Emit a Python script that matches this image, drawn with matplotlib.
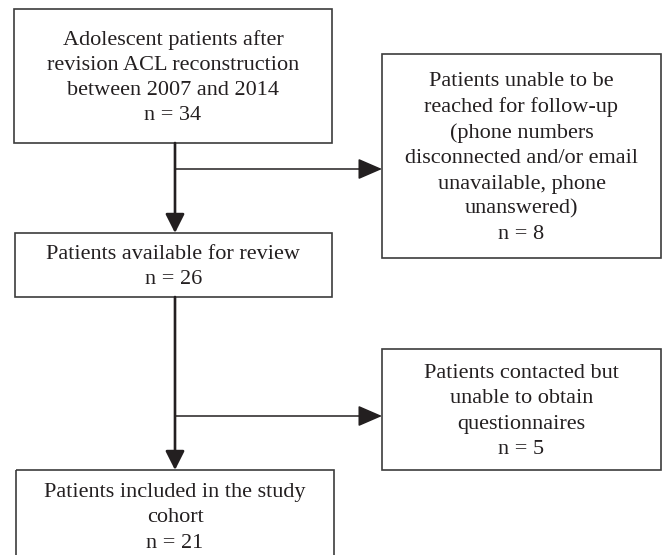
import matplotlib.pyplot as plt
from matplotlib.patches import Rectangle

# flow chart of the cohort
labels = [
    "Adolescent patients after\nrevision ACL reconstruction\nbetween 2007 and 2014",
    "Patients unable to be\nreached for follow-up\n(phone numbers\ndisconnected and/or email\nunavailable, phone\nunanswered)",
    "Patients available for review",
    "Patients contacted but\nunable to obtain\nquestionnaires",
    "Patients included in the study\ncohort",
]
counts = [34, 8, 26, 5, 21]

# box corners in pixels (left, top, right, bottom), y goes down
boxes = [
    (14, 9, 332, 143),
    (382, 54, 661, 258),
    (15, 233, 332, 297),
    (382, 349, 661, 470),
    (16, 470, 334, 562),
]

fig = plt.figure(figsize=(6.66, 5.55), dpi=100)
ax = fig.add_axes([0, 0, 1, 1])
ax.set_xlim(0, 666)
ax.set_ylim(555, 0)
ax.axis("off")

edge = "#3c3c3c"
txt = "#231f20"

for (l, t, r, b), lab, n in zip(boxes, labels, counts):
    ax.add_patch(Rectangle((l, t), r - l, b - t, fill=False, ec=edge, lw=1.2))
    ax.text((l + r) / 2, (t + b) / 2 + 2, lab + "\nn = %d" % n,
            ha="center", va="center", fontsize=16, linespacing=1.43,
            family="Liberation Serif", color=txt)

# main vertical arrows
x0 = 175
arr = dict(arrowstyle="-|>,head_length=1.15,head_width=0.58", color="#231f20", lw=1.9,
           shrinkA=0, shrinkB=0)
ax.annotate("", xy=(x0, boxes[2][1]), xytext=(x0, boxes[0][3]), arrowprops=arr)
ax.annotate("", xy=(x0, boxes[4][1]), xytext=(x0, boxes[2][3]), arrowprops=arr)

# side arrows to excluded boxes
arr2 = dict(arrowstyle="-|>,head_length=1.5,head_width=0.65", color="#231f20", lw=1.1,
            shrinkA=0, shrinkB=0)
ax.annotate("", xy=(boxes[1][0], 169), xytext=(x0, 169), arrowprops=arr2)
ax.annotate("", xy=(boxes[3][0], 416), xytext=(x0, 416), arrowprops=arr2)

fig.savefig("out.png", dpi=100, facecolor="white")
